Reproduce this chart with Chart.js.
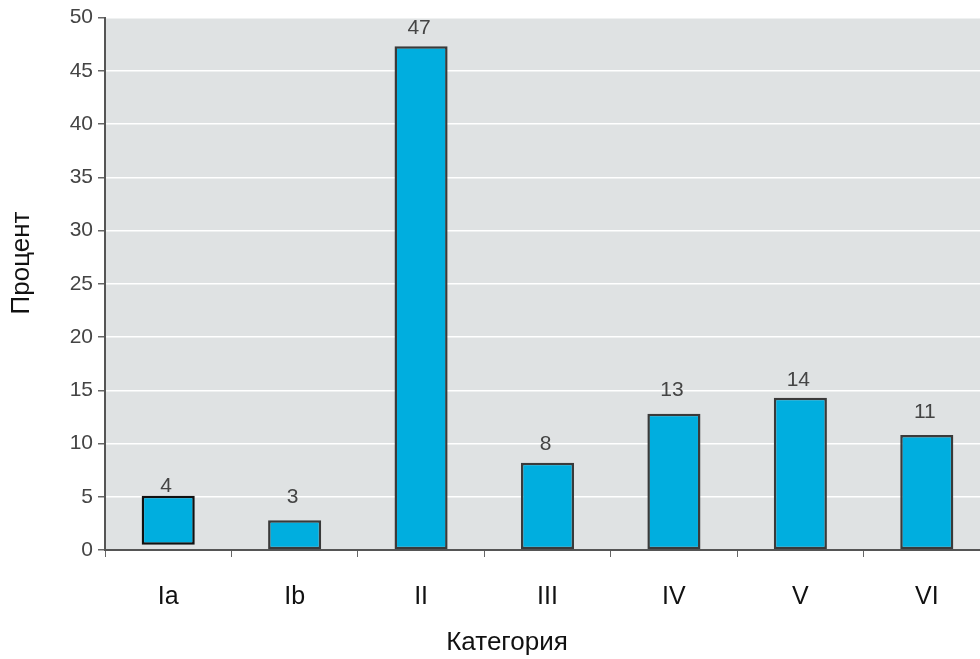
<!DOCTYPE html>
<html><head><meta charset="utf-8">
<script src="https://cdn.jsdelivr.net/npm/chart.js@4"></script>
<style>html,body{margin:0;padding:0;overflow:hidden;background:#fff;width:980px;height:659px}</style>
</head><body>
<canvas id="c" width="990" height="659"></canvas>
<script>
const categories = ['Ia','Ib','II','III','IV','V','VI'];
const barBottoms = [0.5, 0, 0, 0, 0, 0, 0];
const barTops = [5.1, 2.8, 47.3, 8.2, 12.8, 14.3, 10.8];
const labelValues = [4, 3, 47, 8, 13, 14, 11];
const yTicks = [0,5,10,15,20,25,30,35,40,45,50];
const xTitle = 'Категория';
const yTitle = 'Процент';

const font = '"Liberation Sans", Arial, Helvetica, sans-serif';

const bgPlugin = {
  id: 'bg',
  beforeDraw(chart) {
    const {ctx, chartArea: a} = chart;
    ctx.save();
    ctx.fillStyle = '#dfe2e3';
    ctx.fillRect(a.left, a.top, a.right - a.left, a.bottom - a.top);
    ctx.restore();
  }
};
const labelPlugin = {
  id: 'vlabels',
  beforeDatasetsDraw(chart) {
    const {ctx} = chart;
    const y = chart.scales.y;
    const meta = chart.getDatasetMeta(0);
    ctx.save();
    ctx.font = '21px ' + font;
    ctx.fillStyle = '#444';
    ctx.textAlign = 'center';
    ctx.textBaseline = 'middle';
    meta.data.forEach((bar, i) => {
      ctx.fillText(String(labelValues[i]), bar.x - 2, y.getPixelForValue(labelValues[i]) - 21);
    });
    ctx.restore();
  }
};
const titlePlugin = {
  id: 'titles',
  afterDraw(chart) {
    const {ctx} = chart;
    ctx.save();
    ctx.font = '26px ' + font;
    ctx.fillStyle = '#111';
    ctx.textAlign = 'center';
    ctx.textBaseline = 'middle';
    ctx.fillText(xTitle, 507, 643);
    ctx.translate(22, 263);
    ctx.rotate(-Math.PI / 2);
    ctx.fillText(yTitle, 0, 0);
    ctx.restore();
  }
};

new Chart(document.getElementById('c'), {
  type: 'bar',
  data: {
    labels: categories,
    datasets: [{
      data: categories.map((c, i) => [barBottoms[i], barTops[i]]),
      backgroundColor: '#00aedf',
      borderColor: categories.map((c, i) => i === 0 ? '#111' : '#3a3a3a'),
      borderWidth: 2.5,
      borderSkipped: false,
      barPercentage: 0.42,
      categoryPercentage: 1
    }]
  },
  options: {
    responsive: false,
    animation: false,
    layout: {padding: {top: 17, right: 0, left: 0, bottom: 0}},
    plugins: {legend: {display: false}, tooltip: {enabled: false}},
    scales: {
      x: {
        afterFit(s) { s.height = 109; },
        grid: {drawOnChartArea: false, tickColor: '#666', tickLength: 7, lineWidth: 1},
        border: {color: '#555', width: 2},
        ticks: {color: '#111', font: {family: font, size: 25}, padding: 25},
        title: {display: false}
      },
      y: {
        min: 0, max: 50,
        afterFit(s) { s.width = 105; },
        afterBuildTicks(s) { s.ticks = yTicks.map(v => ({value: v})); },
        grid: {color: '#ffffff', lineWidth: 1.5, tickColor: '#666', tickLength: 7},
        border: {color: '#555', width: 2},
        ticks: {color: '#444', font: {family: font, size: 21}, padding: 5},
        title: {display: false}
      }
    }
  },
  plugins: [bgPlugin, labelPlugin, titlePlugin]
});
</script>
</body></html>
